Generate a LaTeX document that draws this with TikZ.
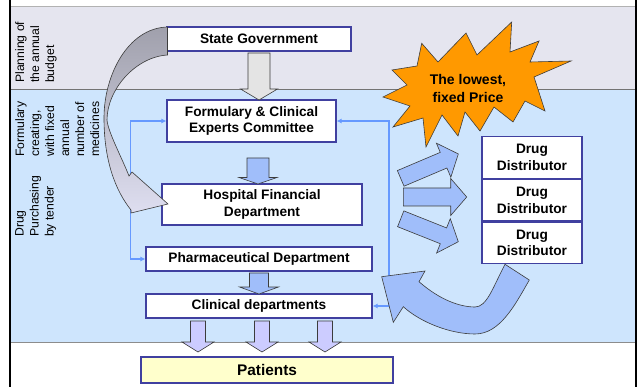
\documentclass[tikz,border=0pt]{standalone}
\usepackage{fontspec}
\setmainfont{Liberation Sans}
\usetikzlibrary{arrows.meta}
\usetikzlibrary{positioning}

\definecolor{bandgray}{RGB}{229,229,239}
\definecolor{bandblue}{RGB}{206,229,253}
\definecolor{boxline}{RGB}{64,64,160}
\definecolor{arrline}{RGB}{60,60,60}
\definecolor{arrgray}{RGB}{228,228,228}
\definecolor{arrblue}{RGB}{160,190,250}
\definecolor{arrlilac}{RGB}{204,204,255}
\definecolor{connblue}{RGB}{102,153,255}
\definecolor{burst}{RGB}{255,153,0}
\definecolor{patientbg}{RGB}{255,255,204}

% block arrow: style, tail, angle, length, shaft half, head half, head length
\newcommand{\blockarrow}[7]{%
  \begin{scope}[shift={#2},rotate=#3]
    \path[#1] (0,-#5) -- ({#4-#7},-#5) -- ({#4-#7},-#6) -- (#4,0)
      -- ({#4-#7},#6) -- ({#4-#7},#5) -- (0,#5) -- cycle;
  \end{scope}}

\begin{document}
\begin{tikzpicture}[
  x=1pt, y=-1pt,
  > = {Latex[length=5pt,width=5pt]},
  box/.style = {draw=boxline, line width=1.2pt, fill=white, inner sep=0pt, align=center,
    font={\fontsize{13.7}{16.7}\selectfont\bfseries}},
  side/.style = {rotate=90, anchor=north west, inner sep=0pt, align=left,
    font={\fontsize{12.2}{15}\selectfont}},
  conn/.style = {draw=connblue, line width=1.8pt, <->},
  grayblock/.style = {draw=arrline, line width=0.6pt, fill=arrgray},
  blueblock/.style = {draw=arrline, line width=0.6pt, fill=arrblue},
  lilacblock/.style = {draw=arrline, line width=0.6pt, fill=arrlilac}
  ]
	\useasboundingbox (0,0) rectangle (639,387);
	\fill[white] (0,0) rectangle (639,387);

	% bands
	\fill[bandgray] (10,6) rectangle (636,90);
	\fill[bandblue] (10,90) rectangle (636,342);
	\draw[gray!60, line width=0.8pt] (10,6) -- (636,6);
	\draw[black!55, line width=1pt] (10,90) -- (636,90);
	\draw[black!45, line width=1pt] (10,342) -- (636,342);
	\draw[black, line width=2.5pt] (10,0) -- (10,387);
	\draw[black, line width=1.2pt] (636,0) -- (636,387);

	\node[side] (plan) at (15,83) {Planning of\\the annual\\budget};
	\node[side] (form) at (15,157) {Formulary\\creating,\\with fixed\\annual\\number of\\medicines};
	\node[side] (tend) at (15,237) {Drug\\Purchasing\\by tender};

	% boxes
	\node[box, minimum width=184, minimum height=24] (sg) at (259,39) {State Government};
	\node[box, minimum width=169, minimum height=42] (fc) at (251.5,121) {Formulary \& Clinical\\Experts Committee};
	\node[box, minimum width=200, minimum height=41] (hf) at (262,204.5) {Hospital Financial\\Department};
	\node[box, minimum width=226, minimum height=24] (pd) at (259,259) {Pharmaceutical Department};
	\node[box, minimum width=226, minimum height=24] (cd) at (259,306) {Clinical departments};
	\node[box, minimum width=252, minimum height=26, fill=patientbg,
	  font={\fontsize{15.4}{18}\selectfont\bfseries}] (pt) at (267,370) {Patients};

	\node[box, minimum width=100, minimum height=41.5] (dd1) at (532,157.5) {Drug\\Distributor};
	\node[box, minimum width=100, minimum height=41.5, below=0pt of dd1] (dd2) {Drug\\Distributor};
	\node[box, minimum width=100, minimum height=41.5, below=0pt of dd2] (dd3) {Drug\\Distributor};

	\draw[conn] (fc.west) -- ++(-36,0) |- (pd.west);
	\draw[conn] (fc.east) -- ++(52,0) |- (cd.east);

	% block arrows
	\blockarrow{grayblock}{(259,53)}{-90}{47}{11}{18.5}{11}
	\blockarrow{blueblock}{(258,158)}{-90}{26}{11}{19}{6.5}
	\blockarrow{blueblock}{(259,273)}{-90}{21}{9.5}{19.5}{7}
	\foreach \px in {198,262,325}
	  \blockarrow{lilacblock}{(\px,321)}{-90}{31}{7.5}{16}{10};

	\blockarrow{blueblock}{(400.7,178.4)}{23}{62.6}{8.5}{18.5}{16}
	\blockarrow{blueblock}{(400.7,218.8)}{-21.7}{62}{8.5}{18.5}{16}
	\blockarrow{blueblock}{(403.3,197)}{0}{63.4}{9}{18.5}{16}

	% curved arrows
	\path[draw=arrline, line width=0.6pt, top color={rgb,255:red,160;green,160;blue,172},
	  bottom color={rgb,255:red,222;green,222;blue,240}]
	  (167.5,27) .. controls (128,28) and (104,75) .. (104,118)
	  .. controls (104,160) and (115,190) .. (131,210) -- (131,213) -- (168,204)
	  -- (132,172) -- (129,176) .. controls (122,158) and (108,132) .. (107,120)
	  .. controls (107,90) and (135,57) .. (167.5,55) -- cycle;

	\path[blueblock]
	  (505,264.3) -- (529.3,280) .. controls (515,305) and (500,334) .. (475,334)
	  .. controls (450,334) and (420,322) .. (403.3,306.7) -- (393.3,322.3)
	  -- (381.7,276.7) -- (425,271) -- (419,281.7)
	  .. controls (440,300) and (460,307) .. (475,307)
	  .. controls (487,307) and (493,287) .. (505,264.3) -- cycle;

	% starburst
	\filldraw[fill=burst, draw=arrline, line width=0.6pt]
	  (421.7,43.3) -- (438,62) -- (466,33) -- (477,55) -- (511.7,22) -- (510,52)
	  -- (539,41) -- (530,62) -- (571,61) -- (534,77) -- (545,111) -- (525,101)
	  -- (513,122) -- (494,107) -- (480,131) -- (465,112) -- (458,136) -- (442,115)
	  -- (426,147) -- (423,118) -- (393,127) -- (410,106) -- (383,97) -- (407,85)
	  -- (392,70) -- (417,66) -- cycle;
	\node[align=center, inner sep=0pt, font={\fontsize{14}{18}\selectfont\bfseries}] (price) at (468,88)
	  {The lowest,\\fixed Price};

\end{tikzpicture}
\end{document}
